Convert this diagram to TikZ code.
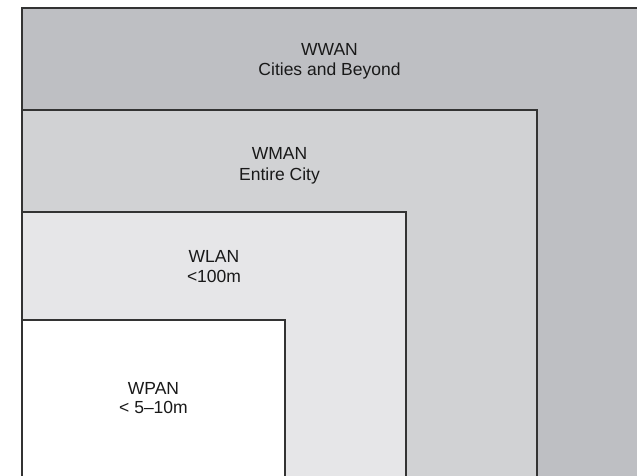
\documentclass[tikz,border=0pt]{standalone}
\usepackage{fontspec}
\setmainfont{Liberation Sans}
\definecolor{wwancol}{HTML}{BEBFC3}
\definecolor{wmancol}{HTML}{D1D2D4}
\definecolor{wlancol}{HTML}{E6E6E8}
\definecolor{edgecol}{HTML}{333333}
\begin{document}
\begin{tikzpicture}[x=1pt,y=-1pt,
  zone/.style={draw=edgecol,line width=1.1pt},
  lbl/.style={anchor=base,inner sep=0pt,text=black!90,font=\fontsize{17.5}{20.5}\selectfont}]
\useasboundingbox (0,0) rectangle (637,476);
\fill[white] (0,0) rectangle (637,476);
\fill[wwancol] (22,8) rectangle (640,480);
\fill[wmancol] (22,110) rectangle (537,480);
\fill[wlancol] (22,212) rectangle (406,480);
\fill[white] (22,320) rectangle (285,480);
\draw[zone] (22,480) -- (22,8) -- (645,8);
\draw[zone] (22,110) -- (537,110) -- (537,480);
\draw[zone] (22,212) -- (406,212) -- (406,480);
\draw[zone] (22,320) -- (285,320) -- (285,480);
\node[lbl] (wwan) at (329.5,55.7) {WWAN};
\node[lbl] (wwanr) at (329.5,76) {Cities and Beyond};
\node[lbl] (wman) at (279.5,159) {WMAN};
\node[lbl] (wmanr) at (279.5,180) {Entire City};
\node[lbl] (wlan) at (214,262) {WLAN};
\node[lbl] (wlanr) at (214,282.5) {<100m};
\node[lbl] (wpan) at (153.5,394) {WPAN};
\node[lbl] (wpanr) at (153.5,413) {< 5–10m};
\end{tikzpicture}
\end{document}
